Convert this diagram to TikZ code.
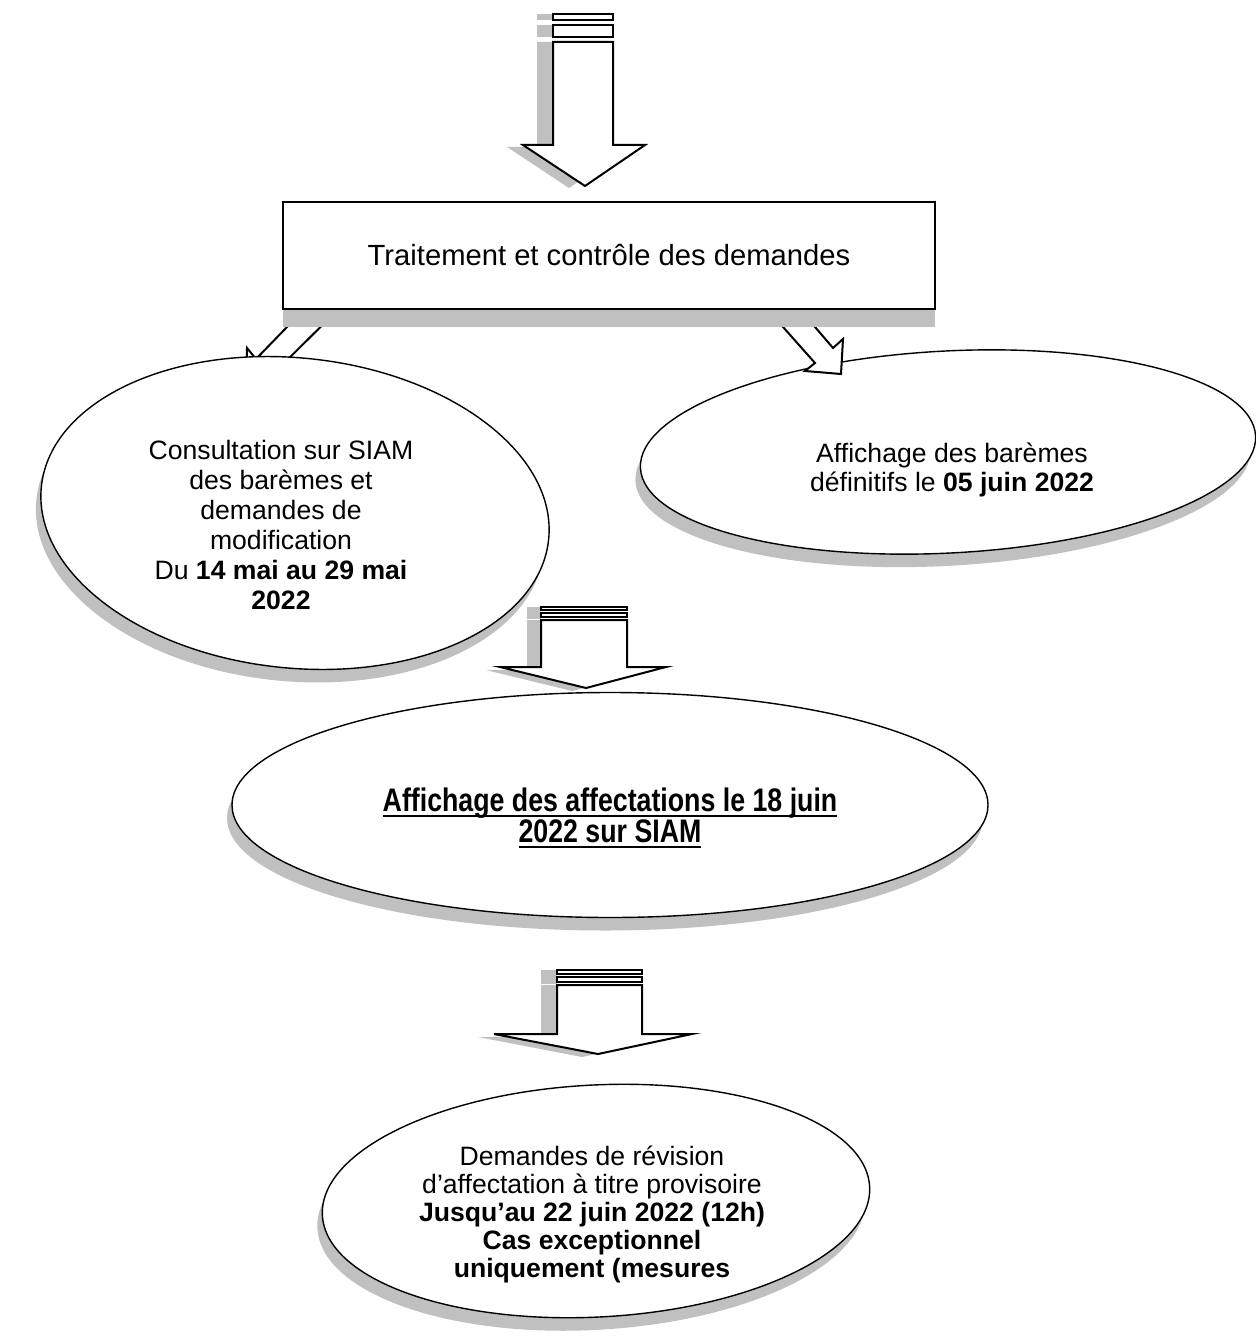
\documentclass[tikz,border=0pt]{standalone}
\usepackage{fontspec}
\setmainfont{Liberation Sans}
\newfontfamily\narrowfont[FakeStretch=0.82]{Liberation Sans}
\newcommand\thickul[1]{\setbox0\hbox{#1}\rlap{\vrule width\wd0 height -1.8pt depth 2.8pt}\box0}
\usetikzlibrary{shapes.geometric,shadows}
\definecolor{shadowgray}{HTML}{C0C0C0}
\tikzset{
  oval/.style={ellipse, draw, line width=0.7pt, fill=white, inner sep=0pt,
    drop shadow={shadow xshift=-2.5pt, shadow yshift=-6.5pt, fill=shadowgray, opacity=1}},
  ovaltext/.style={align=center, font=\fontsize{13.3}{14.5}\selectfont},
  blockarrow/.style={draw, line width=1pt, fill=white, line join=miter},
  arrowshade/.style={fill=shadowgray},
}
\begin{document}
\begin{tikzpicture}[x=0.5pt,y=-0.5pt]
\useasboundingbox (0,0) rectangle (1256,1342);
% top arrow
\fill[arrowshade] (537,14) rectangle (553,20);
\fill[arrowshade] (537,25) rectangle (553,37);
\fill[arrowshade] (537,42) -- (597,42) -- (597,147) -- (629,147) -- (569,188) -- (507,147) -- (537,147) -- cycle;
\draw[blockarrow] (553,14) rectangle (613,20);
\draw[blockarrow] (553,25) rectangle (613,37);
\draw[blockarrow] (553,42) -- (613,42) -- (613,145) -- (645,145) -- (585,186) -- (523,145) -- (553,145) -- cycle;
% arrow to the left oval, behind it
\draw[blockarrow] (300.6,313) -- (256,359) -- (247,348) -- (246,385) -- (282,385) -- (272,375) -- (334.6,313) -- cycle;
% right oval and its arrow
\node[oval, rotate=3, minimum width=308pt, minimum height=101pt] (bareme) at (948,452) {};
\node[ovaltext] (baremetxt) at (952,470) {Affichage des barèmes\\définitifs le \textbf{05 juin 2022}};
\draw[blockarrow] (770.6,313) -- (815,363) -- (805,371) -- (841,374) -- (843,339) -- (833,348) -- (803,313) -- cycle;
% box
\node[draw, line width=1pt, fill=white, minimum width=326pt, minimum height=53.5pt,
  drop shadow={shadow xshift=0pt, shadow yshift=-9pt, fill=shadowgray, opacity=1},
  font=\fontsize{14.6}{17}\selectfont] (traitement) at (609,255.5) {Traitement et contrôle des demandes};
% left oval
\node[oval, rotate=-6, minimum width=255pt, minimum height=155pt] (consult) at (295,513) {};
\node[ovaltext, font=\fontsize{13.3}{15}\selectfont] (consulttxt) at (281,525)
  {Consultation sur SIAM\\des barèmes et\\demandes de\\modification\\Du \textbf{14 mai au 29 mai}\\\textbf{2022}};
% second arrow
\fill[arrowshade] (527,607) rectangle (541,619);
\fill[arrowshade] (527,620) -- (613,620) -- (613,670) -- (652,670) -- (572,691) -- (486,670) -- (527,670) -- cycle;
\draw[blockarrow] (541,607) rectangle (627,610);
\draw[blockarrow] (541,613) rectangle (627,617);
\draw[blockarrow] (541,620) -- (627,620) -- (627,667) -- (666,667) -- (586,688) -- (500,667) -- (541,667) -- cycle;
% middle oval
\node[oval, minimum width=378pt, minimum height=112.5pt] (affect) at (610,805) {};
\node[align=center, font=\narrowfont\bfseries\fontsize{16.3}{15.5}\selectfont] (affecttxt) at (610,818)
  {\thickul{Affichage des affectations le 18 juin}\\\thickul{2022 sur SIAM}};
% third arrow
\fill[arrowshade] (541,970) rectangle (557,984);
\fill[arrowshade] (541,985) -- (626,985) -- (626,1037) -- (676,1037) -- (582,1057) -- (478,1037) -- (541,1037) -- cycle;
\draw[blockarrow] (557,970) rectangle (642,974);
\draw[blockarrow] (557,977) rectangle (642,982);
\draw[blockarrow] (557,985) -- (642,985) -- (642,1034) -- (692,1034) -- (598,1054) -- (494,1034) -- (557,1034) -- cycle;
% bottom oval
\node[oval, rotate=3, minimum width=274pt, minimum height=116pt] (revision) at (596,1201) {};
\node[ovaltext, font=\fontsize{13.3}{14}\selectfont] (revisiontxt) at (592,1214)
  {Demandes de révision\\d’affectation à titre provisoire\\\textbf{Jusqu’au 22 juin 2022 (12h)}\\\textbf{Cas exceptionnel}\\\textbf{uniquement (mesures}};
\end{tikzpicture}
\end{document}
